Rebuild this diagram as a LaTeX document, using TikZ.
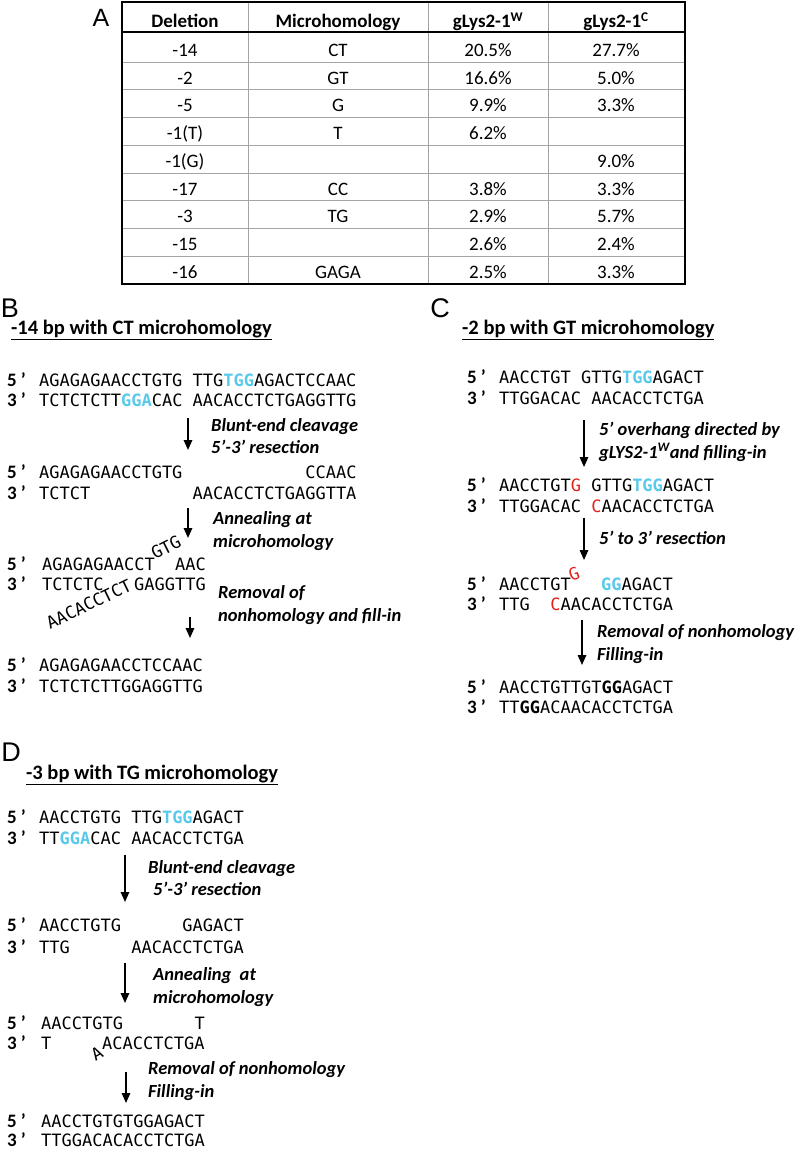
\documentclass[tikz,border=0pt]{standalone}
\usepackage{fontspec}
\newfontfamily\calfont{Carlito}
\newfontfamily\seqfont{DejaVu Sans Mono}
\newfontfamily\panelfont{Liberation Sans}
\usetikzlibrary{arrows.meta}
\definecolor{seqcyan}{RGB}{88,200,235}
\definecolor{seqred}{RGB}{226,32,26}
\definecolor{gridgray}{RGB}{165,165,165}
\newcommand\gp[1]{\hspace*{#1\dimexpr0.6021em\relax}}
\newcommand\cy[1]{\textcolor{seqcyan}{\bfseries#1}}
\newcommand\rd[1]{\textcolor{seqred}{#1}}
\newcommand\fv{5\kern4pt’}
\newcommand\tr{3\kern4pt’}
\tikzset{
	seq/.style={anchor=base west, inner sep=0pt, font=\seqfont\fontsize{17}{20}\selectfont},
	prime/.style={anchor=base west, inner sep=0pt, font=\calfont\bfseries\fontsize{19}{22}\selectfont},
	steplabel/.style={anchor=base west, inner sep=0pt, font=\calfont\bfseries\itshape\fontsize{18.5}{21}\selectfont},
	steparrow/.style={-{Triangle[length=10pt,width=8.5pt]}, line width=1.6pt},
	heading/.style={anchor=base west, inner sep=0pt, font=\calfont\bfseries\fontsize{20.5}{24}\selectfont},
	panel/.style={inner sep=0pt, font=\panelfont\fontsize{27}{30}\selectfont},
	cell/.style={anchor=base, inner sep=0pt, font=\calfont\fontsize{19}{22}\selectfont},
	headcell/.style={cell, font=\calfont\bfseries\fontsize{19}{22}\selectfont}
}
\begin{document}
\begin{tikzpicture}[x=1pt, y=-1pt]
	\useasboundingbox (0,0) rectangle (800,1150);
	
	\node[panel, font=\panelfont\fontsize{25}{28}\selectfont] (pA) at (101,18) {A};
	\foreach \xl in {248,428,548}
		\draw[gridgray, line width=0.8pt] (\xl,2) -- (\xl,284);
	\foreach \i in {1,...,8}
		\draw[gridgray, line width=0.8pt] (122,{62+27.75*(\i-1)}) -- (685,{62+27.75*(\i-1)});
	\draw[line width=1.6pt] (122,2) rectangle (685,284);
	\draw[line width=1.6pt] (122,32) -- (685,32);
	\node[headcell] (h1) at (185,27.5) {Deletion};
	\node[headcell] (h2) at (338,27.5) {Microhomology};
	\node[headcell] (h3) at (488,27.5) {gLys2-1\textsuperscript{W}};
	\node[headcell] (h4) at (616,27.5) {gLys2-1\textsuperscript{C}};
	\foreach \dl/\mh/\wt/\ct [count=\i] in {-14/CT/20.5\%/27.7\%, -2/GT/16.6\%/5.0\%, -5/G/9.9\%/3.3\%, -1(T)/T/6.2\%/{}, -1(G)/{}/{}/9.0\%, -17/CC/3.8\%/3.3\%, -3/TG/2.9\%/5.7\%, -15/{}/2.6\%/2.4\%, -16/GAGA/2.5\%/3.3\%}{
		\node[cell] (del\i) at (185,{56.5+27.75*(\i-1)}) {\dl};
		\node[cell] (mh\i) at (338,{56.5+27.75*(\i-1)}) {\mh};
		\node[cell] (wt\i) at (488,{56.5+27.75*(\i-1)}) {\wt};
		\node[cell] (ct\i) at (616,{56.5+27.75*(\i-1)}) {\ct};
	}
	
	\node[panel] (pB) at (10,308) {B};
	\node[heading] (hB) at (11,334) {\underline{-14 bp with CT microhomology}};
	\node[prime] (bp1) at (7,386) {\fv};
	\node[seq] (bs1) at (39,386) {AGAGAGAACCTGTG\gp{1}TTG\cy{TGG}AGACTCCAAC};
	\node[prime] (bp2) at (7,406) {\tr};
	\node[seq] (bs2) at (39,406) {TCTCTCTT\cy{GGA}CAC\gp{1}AACACCTCTGAGGTTG};
	\coordinate (ba1s) at (188,418);
	\coordinate (ba1e) at (188,450);
	\draw[steparrow] (ba1s) -- (ba1e);
	\node[steplabel] (bl1) at (211,431) {Blunt-end cleavage};
	\node[steplabel] (bl2) at (211,453) {5’-3’ resection};
	\node[prime] (bp3) at (7,478) {\fv};
	\node[seq] (bs3) at (39,478) {AGAGAGAACCTGTG\gp{12}CCAAC};
	\node[prime] (bp4) at (7,499) {\tr};
	\node[seq] (bs4) at (39,499) {TCTCT\gp{10}AACACCTCTGAGGTTA};
	\coordinate (ba2s) at (188,508);
	\coordinate (ba2e) at (188,538);
	\draw[steparrow] (ba2s) -- (ba2e);
	\node[steplabel] (bl3) at (213,524) {Annealing at};
	\node[steplabel] (bl4) at (213,547) {microhomology};
	\node[prime] (bp5) at (7,570) {\fv};
	\node[seq] (bs5) at (42,570) {AGAGAGAACCT};
	\node[seq] (bs5r) at (175,570) {AAC};
	\node[seq, rotate=27] (bs5up) at (155,560) {GTG};
	\node[prime] (bp6) at (7,590) {\tr};
	\node[seq] (bs6) at (42,590) {TCTCTC};
	\node[seq] (bs6r) at (134,590) {GAGGTTG};
	\node[seq, rotate=26] (bs6dn) at (50,630) {AACACCTCT};
	\coordinate (ba3s) at (190,617);
	\coordinate (ba3e) at (190,638);
	\draw[steparrow] (ba3s) -- (ba3e);
	\node[steplabel] (bl5) at (218,598) {Removal of};
	\node[steplabel] (bl6) at (218,621) {nonhomology and fill-in};
	\node[prime] (bp7) at (7,671) {\fv};
	\node[seq] (bs7) at (39,671) {AGAGAGAACCTCCAAC};
	\node[prime] (bp8) at (7,692) {\tr};
	\node[seq] (bs8) at (39,692) {TCTCTCTTGGAGGTTG};
	
	\node[panel] (pC) at (440,308) {C};
	\node[heading] (hC) at (462,334) {\underline{-2 bp with GT microhomology}};
	\node[prime] (cp1) at (467,383) {\fv};
	\node[seq] (cs1) at (499,383) {AACCTGT\gp{1}GTTG\cy{TGG}AGACT};
	\node[prime] (cp2) at (467,404) {\tr};
	\node[seq] (cs2) at (499,404) {TTGGACAC\gp{1}AACACCTCTGA};
	\coordinate (ca1s) at (584,420);
	\coordinate (ca1e) at (584,467);
	\draw[steparrow] (ca1s) -- (ca1e);
	\node[steplabel] (cl1) at (599,435) {5’ overhang directed by};
	\node[steplabel] (cl2) at (599,458) {gLYS2-1\textsuperscript{W}and filling-in};
	\node[prime] (cp3) at (467,491) {\fv};
	\node[seq] (cs3) at (499,491) {AACCTGT\rd{G}\gp{1}GTTG\cy{TGG}AGACT};
	\node[prime] (cp4) at (467,512) {\tr};
	\node[seq] (cs4) at (499,512) {TTGGACAC\gp{1}\rd{C}AACACCTCTGA};
	\coordinate (ca2s) at (584,518);
	\coordinate (ca2e) at (584,560);
	\draw[steparrow] (ca2s) -- (ca2e);
	\node[steplabel] (cl3) at (599,544) {5’ to 3’ resection};
	\node[prime] (cp5) at (467,590) {\fv};
	\node[seq] (cs5) at (499,590) {AACCTGT};
	\node[seq] (cs5r) at (601,590) {\cy{GG}AGACT};
	\node[seq, anchor=center, rotate=20] (cs5up) at (574,574) {\rd{G}};
	\node[prime] (cp6) at (467,610) {\tr};
	\node[seq] (cs6) at (499,610) {TTG\gp{2}\rd{C}AACACCTCTGA};
	\coordinate (ca3s) at (582,620);
	\coordinate (ca3e) at (582,665);
	\draw[steparrow] (ca3s) -- (ca3e);
	\node[steplabel] (cl4) at (597,637) {Removal of nonhomology};
	\node[steplabel] (cl5) at (597,660) {Filling-in};
	\node[prime] (cp7) at (467,693) {\fv};
	\node[seq] (cs7) at (499,693) {AACCTGTTGT{\bfseries GG}AGACT};
	\node[prime] (cp8) at (467,713) {\tr};
	\node[seq] (cs8) at (499,713) {TT{\bfseries GG}ACAACACCTCTGA};
	
	\node[panel] (pD) at (11,752) {D};
	\node[heading] (hD) at (26,779) {\underline{-3 bp with TG microhomology}};
	\node[prime] (dp1) at (7,823) {\fv};
	\node[seq] (ds1) at (39,823) {AACCTGTG\gp{1}TTG\cy{TGG}AGACT};
	\node[prime] (dp2) at (7,844) {\tr};
	\node[seq] (ds2) at (39,844) {TT\cy{GGA}CAC\gp{1}AACACCTCTGA};
	\coordinate (da1s) at (125,855);
	\coordinate (da1e) at (125,902);
	\draw[steparrow] (da1s) -- (da1e);
	\node[steplabel] (dl1) at (148,873) {Blunt-end cleavage};
	\node[steplabel] (dl2) at (153,895) {5’-3’ resection};
	\node[prime] (dp3) at (7,931) {\fv};
	\node[seq] (ds3) at (39,931) {AACCTGTG\gp{6}GAGACT};
	\node[prime] (dp4) at (7,953) {\tr};
	\node[seq] (ds4) at (39,953) {TTG\gp{6}AACACCTCTGA};
	\coordinate (da2s) at (125,963);
	\coordinate (da2e) at (125,1003);
	\draw[steparrow] (da2s) -- (da2e);
	\node[steplabel] (dl3) at (153,980) {Annealing\ \ at};
	\node[steplabel] (dl4) at (153,1003) {microhomology};
	\node[prime] (dp5) at (7,1029) {\fv};
	\node[seq] (ds5) at (41,1029) {AACCTGTG\gp{7}T};
	\node[prime] (dp6) at (7,1049) {\tr};
	\node[seq] (ds6) at (41,1049) {T};
	\node[seq] (ds6r) at (102,1049) {ACACCTCTGA};
	\node[seq, anchor=center, rotate=30] (ds6dn) at (97,1054) {A};
	\coordinate (da3s) at (126,1072);
	\coordinate (da3e) at (126,1103);
	\draw[steparrow] (da3s) -- (da3e);
	\node[steplabel] (dl5) at (148,1074) {Removal of nonhomology};
	\node[steplabel] (dl6) at (148,1097) {Filling-in};
	\node[prime] (dp7) at (7,1127) {\fv};
	\node[seq] (ds7) at (41,1127) {AACCTGTGTGGAGACT};
	\node[prime] (dp8) at (7,1146) {\tr};
	\node[seq] (ds8) at (41,1146) {TTGGACACACCTCTGA};
\end{tikzpicture}
\end{document}
